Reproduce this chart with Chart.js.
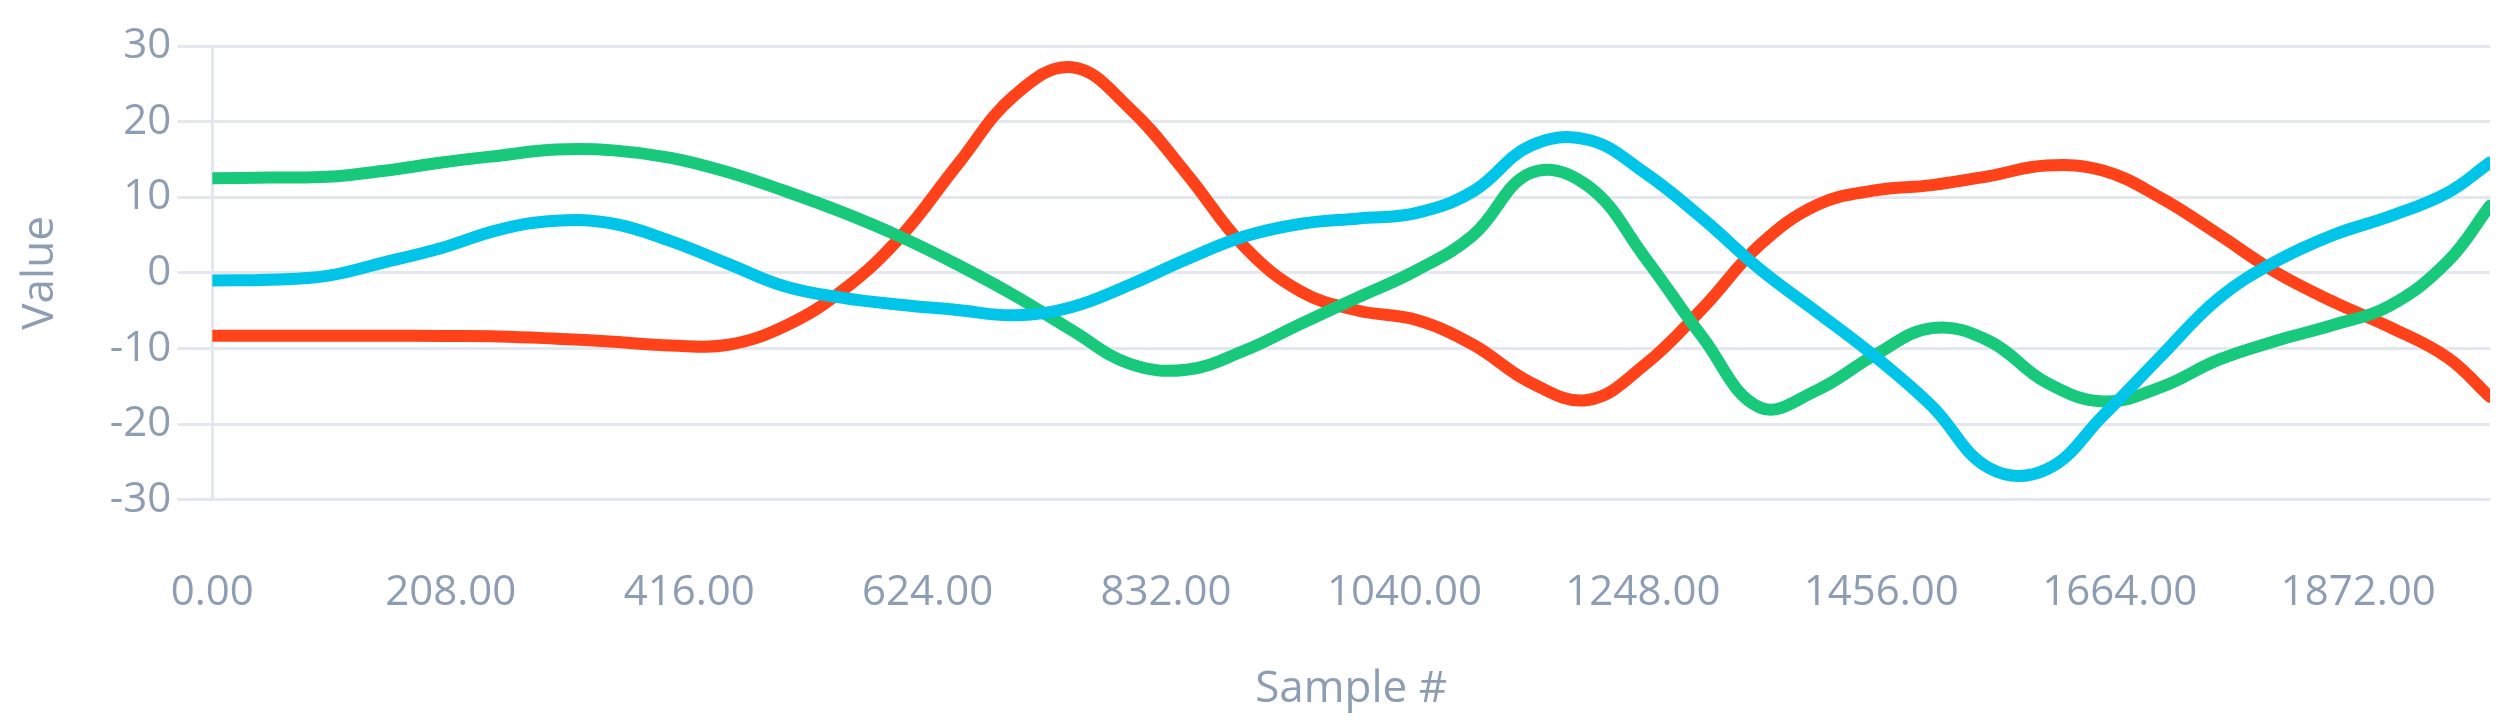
<!DOCTYPE html>
<html>
<head>
<meta charset="utf-8">
<script src="https://cdn.jsdelivr.net/npm/chart.js@4"></script>
<style>
  html, body { margin: 0; padding: 0; background: #fff; }
  #wrap { width: 2517px; height: 726px; }
</style>
</head>
<body>
<div id="wrap"><canvas id="myChart" width="2517" height="726"></canvas></div>
<script>
// sample numbers (every 50) and the values
const samples = [0, 50, 100, 150, 200, 250, 300, 350, 400, 450, 500, 550, 600, 650, 700, 750, 800, 850, 900, 950,
  1000, 1050, 1100, 1150, 1200, 1250, 1300, 1350, 1400, 1450, 1500, 1550, 1600, 1650, 1700, 1750, 1800, 1850, 1900, 1950, 1987];

const cyan = [-1.0, -0.9, -0.4, 1.4, 3.3, 5.7, 6.9, 6.5, 4.2, 1.2, -1.8, -3.3, -4.2, -4.9, -5.6, -4.5, -1.6, 1.8, 4.8, 6.5,
  7.2, 7.9, 10.8, 16.8, 17.6, 13.2, 7.2, 0.5, -5.2, -11, -17.6, -25.8, -26.0, -18.8, -11, -3.4, 1.5, 5.0, 7.5, 10.6, 14.6];

const green = [12.5, 12.6, 12.7, 13.5, 14.6, 15.5, 16.3, 16.2, 15.2, 13.3, 10.8, 8.0, 4.8, 1.1, -3, -7.6, -12.0, -12.8, -10.3, -6.7,
  -3.2, 0.3, 5.0, 13.2, 11.5, 2.0, -8.5, -17.8, -15.5, -10.9, -7.3, -9.0, -14.5, -17.0, -15.1, -11.5, -9.0, -6.9, -4.3, 1.5, 8.9];

const red = [-8.3, -8.3, -8.3, -8.3, -8.35, -8.4, -8.7, -9.1, -9.6, -9.5, -7.0, -2.3, 4.7, 14.3, 23.5, 27.2, 21.8, 13.1, 3.5, -2.5,
  -5.0, -6.2, -9.5, -14.5, -16.8, -12.1, -4.7, 3.7, 9.0, 10.9, 11.6, 12.8, 14.2, 13.5, 9.9, 5.1, 0.1, -3.8, -7.2, -11.2, -16.4];

const xMax = 1987;
const xStep = 208;
const yTicks = [-30, -20, -10, 0, 10, 20, 30];

function pts(ys) {
  return samples.map((x, i) => ({ x: x, y: ys[i] }));
}

const textColor = '#8d9db3';
const gridColor = '#e4e8ee';

function line(label, ys, color) {
  return {
    label: label,
    data: pts(ys),
    borderColor: color,
    backgroundColor: color,
    borderWidth: 12,
    pointRadius: 0,
    fill: false,
    tension: 0.4,
    borderCapStyle: 'round',
    borderJoinStyle: 'round'
  };
}

const config = {
  type: 'line',
  data: {
    datasets: [
      line('A', cyan, '#00c5e8'),
      line('B', green, '#18c97b'),
      line('C', red, '#ff4219')
    ]
  },
  options: {
    responsive: false,
    animation: false,
    devicePixelRatio: 1,
    layout: { padding: { top: 46, right: 27, bottom: 6, left: 10 } },
    plugins: { legend: { display: false }, tooltip: { enabled: false } },
    scales: {
      x: {
        type: 'linear',
        min: 0,
        max: xMax,
        // grid hidden, tick length only used as room above the labels
        grid: { display: false, drawTicks: true, tickLength: 68 },
        border: { display: false },
        ticks: {
          stepSize: xStep,
          includeBounds: false,
          maxRotation: 0,
          autoSkip: false,
          padding: 0,
          color: textColor,
          font: { family: 'Open Sans', size: 42 },
          callback: (v) => v.toFixed(2)
        },
        title: {
          display: true,
          text: 'Sample #',
          color: textColor,
          font: { family: 'Open Sans', size: 44 },
          padding: { top: 45, bottom: 4 }
        }
      },
      y: {
        min: yTicks[0],
        max: yTicks[yTicks.length - 1],
        grid: { color: gridColor, lineWidth: 3, tickLength: 35 },
        border: { display: true, color: gridColor, width: 3 },
        ticks: {
          stepSize: 10,
          padding: 6,
          color: textColor,
          font: { family: 'Open Sans', size: 42 }
        },
        title: {
          display: true,
          text: 'Value',
          color: textColor,
          font: { family: 'Open Sans', size: 44 },
          padding: { top: 4, bottom: 37 }
        }
      }
    }
  }
};

const ctx = document.querySelector('#myChart');
if (ctx) {
  new Chart(ctx, config);
}
</script>
</body>
</html>
